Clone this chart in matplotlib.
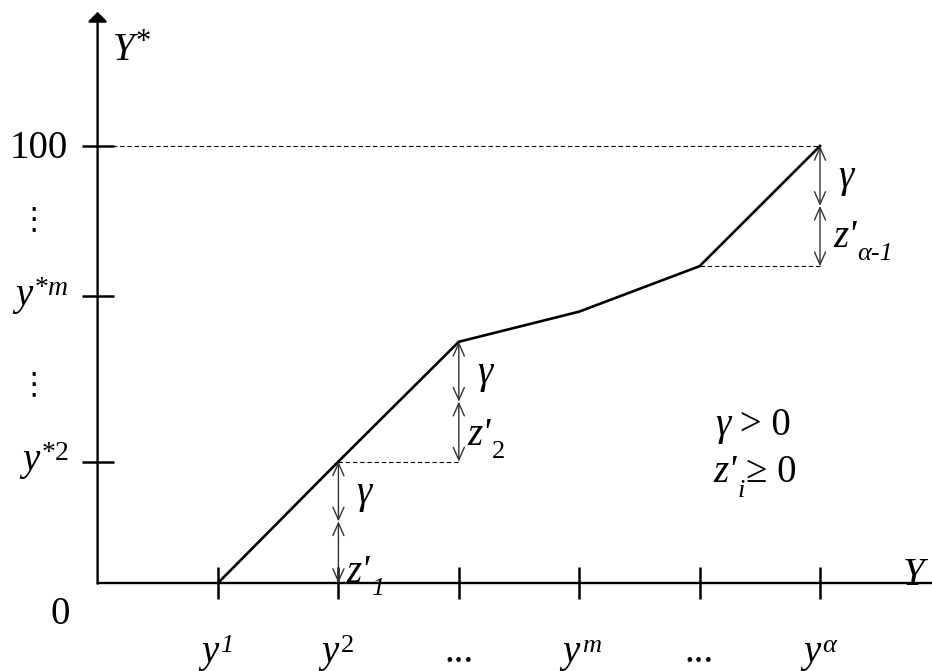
import matplotlib
matplotlib.use("Agg")
import matplotlib.pyplot as plt

plt.rcParams['font.family'] = ['Liberation Serif', 'DejaVu Serif']

# piecewise linear map Y -> Y*
knot_x = [1, 2, 3, 4, 5, 6]
knot_y = [0, 27.8, 55.2, 62.1, 72.5, 100]
x_sups = ['1', '2', None, 'm', None, '\u03b1']

ystar_ticks = [27.8, 65.7, 100]
ystar_sups = ['2', 'm', None]

gamma = 13.7
step_idx = [1, 2, 5]
z_subs = ['1', '2', '\u03b1-1']

FS = 28
SS = 19
PX = 0.72  # points per pixel at dpi 100

fig = plt.figure(figsize=(9.32, 6.71), dpi=100)
ax = fig.add_axes([0, 0, 1, 1])
ax.set_xlim(-0.8106, 6.930)
ax.set_ylim(-20.137, 133.41)


def chain(x, y, parts):
    """Draw text pieces one after another on a common baseline.
    parts: (text, size, rise_px, style, gap_px)"""
    prev = None
    for txt, size, rise, style, gap in parts:
        if prev is None:
            prev = ax.text(x, y, txt, fontsize=size, style=style,
                           ha='left', va='baseline')
        else:
            prev = ax.annotate(txt, xy=(1, y), xycoords=(prev, 'data'),
                               xytext=(gap * PX, rise * PX), textcoords='offset points',
                               fontsize=size, style=style, ha='left', va='baseline')
    return prev


for s in ['top', 'right']:
    ax.spines[s].set_visible(False)
ax.spines['left'].set_position(('data', 0))
ax.spines['bottom'].set_position(('data', 0))
ax.spines['left'].set_color('none')
ax.spines['bottom'].set_bounds(0, 6.93)
ax.spines['bottom'].set_linewidth(1.7)

# vertical axis with arrow head
ax.annotate('', xy=(0, 130.7), xytext=(0, -0.15),
            arrowprops=dict(arrowstyle='-|>,head_length=0.58,head_width=0.58',
                            mutation_scale=10, lw=1.7, color='black',
                            shrinkA=0, shrinkB=0))

ax.set_xticks(knot_x, [''] * len(knot_x))
ax.set_yticks(ystar_ticks, [''] * len(ystar_ticks))
ax.tick_params(direction='inout', length=23, width=1.8, color='black')

# curve
ax.plot(knot_x, knot_y, color='black', lw=1.9)

# dashed guides
dash = dict(color='black', lw=0.8, linestyle=(0, (4, 2.5)))
ax.plot([0, knot_x[-1]], [knot_y[-1], knot_y[-1]], **dash)
for i in step_idx[1:]:
    ax.plot([knot_x[i - 1], knot_x[i]], [knot_y[i - 1], knot_y[i - 1]], **dash)

# gamma / z' arrows
arrow = dict(arrowstyle='<->,head_length=0.45,head_width=0.2', mutation_scale=20,
             lw=1.0, color='#333333', shrinkA=0, shrinkB=0)
z_pos = [(2.07, 0.23), (3.07, 31.6), (6.108, 76.9)]
z_sub_style = ['italic', 'normal', 'italic']
for k, i in enumerate(step_idx):
    x = knot_x[i]
    top = knot_y[i]
    base = knot_y[i - 1]
    mid = top - gamma
    ax.annotate('', xy=(x, top), xytext=(x, mid), arrowprops=arrow)
    ax.annotate('', xy=(x, base), xytext=(x, mid), arrowprops=arrow)
    ax.text(x + 0.15, top - 9.4, '\u03b3', fontsize=FS, style='italic',
            ha='left', va='baseline')
    chain(z_pos[k][0], z_pos[k][1], [("z'", FS, 0, 'italic', 0),
                                     (z_subs[k], SS, -13, z_sub_style[k], 1)])

# labels under the Y axis
for x, sup in zip(knot_x, x_sups):
    if sup is None:
        ax.text(x, -18.1, '...', fontsize=FS, ha='center', va='baseline')
    else:
        st = 'normal' if sup == '2' else 'italic'
        chain(x - 0.14, -18.1, [('y', FS, 0, 'italic', 0), (sup, SS, 10, st, 2)])

# labels left of the Y* axis
ax.text(-0.25, (583 - 158) / 4.37, '100', fontsize=FS, ha='right', va='baseline')
chain(-0.686, (583 - 305) / 4.37, [('y', FS, 0, 'italic', 0), ('*', 20, 10, 'normal', 2),
                                    ('m', 20, 10, 'italic', 0)])
chain(-0.628, (583 - 470) / 4.37, [('y', FS, 0, 'italic', 0), ('*', 20, 10, 'normal', 2),
                                    ('2', 20, 10, 'normal', 0)])
ax.text(-0.312, -9.4, '0', fontsize=FS, ha='center', va='baseline')

for yv in [(583 - 220) / 4.37, (583 - 385) / 4.37]:
    ax.text(-0.53, yv, '\u22ee', fontsize=22, ha='center', va='center',
            family=['DejaVu Sans'])

# axis names
chain(0.128, 119.7, [('Y', FS, 0, 'italic', 0), ('*', 22, 10, 'normal', 1)])
ax.text(6.69, -0.46, 'Y', fontsize=FS, style='italic', ha='left', va='baseline')

# constraints
chain(5.128, 33.87, [('\u03b3', FS, 0, 'italic', 0), (' > 0', FS, 0, 'normal', 0)])
chain(5.111, 23.1, [("z'", FS, 0, 'italic', 0), ('i', SS, -15, 'italic', 1),
                    ('\u2265 0', FS, 0, 'normal', 1)])

fig.savefig('out.png', dpi=100)
